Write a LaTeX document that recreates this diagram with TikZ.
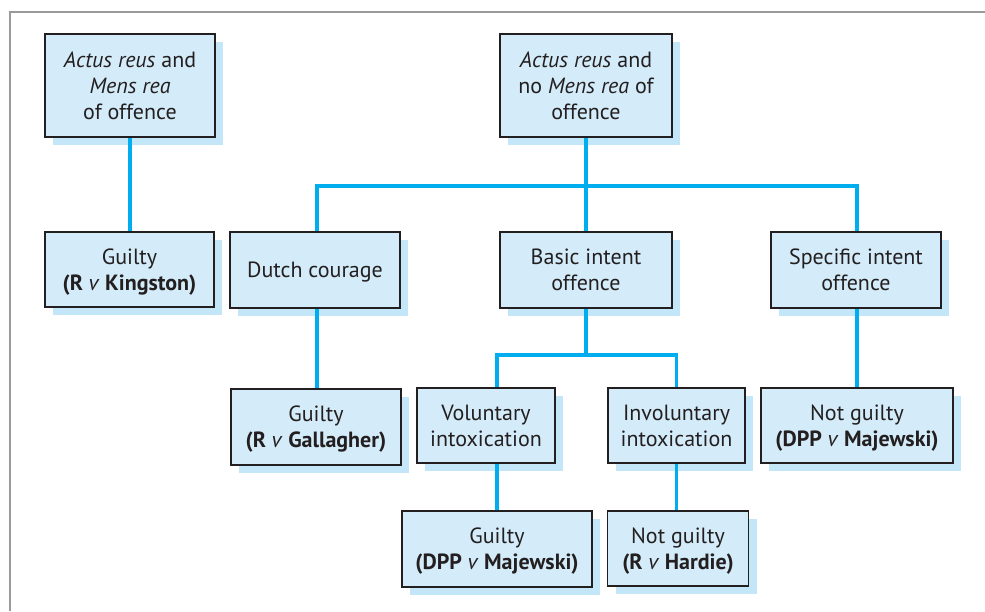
\documentclass[tikz,border=0pt]{standalone}
\usepackage{fontspec}
\setmainfont{PT Sans}
\newcommand\nodepthtext[1]{\raisebox{0pt}[\height][0pt]{#1}}
\pgfdeclarelayer{shadowlayer}
\pgfdeclarelayer{connlayer}
\pgfsetlayers{shadowlayer,connlayer,main}
\begin{document}
\begin{tikzpicture}[x=1pt,y=-1pt,
  boxstyle/.style={draw=boxline, line width=1.3pt, fill=boxfill, text=txt, align=center,
    font=\fontsize{22}{26}\selectfont, inner sep=0pt},
  conn/.style={draw=linecol, line width=3.2pt},
]
\definecolor{boxfill}{HTML}{D4ECF9}
\definecolor{shadowfill}{HTML}{C3E6F8}
\definecolor{boxline}{HTML}{231F20}
\definecolor{txt}{HTML}{231F20}
\definecolor{linecol}{HTML}{00AEEF}
\definecolor{framecol}{HTML}{999A9C}
\useasboundingbox (0,0) rectangle (985,611);
% frame
\draw[framecol, line width=2.6pt] (10,611) -- (10,12) -- (985,12);
% node geometry: name / center / width / height
\def\boxes{a1/130/85.5/170/103,a2/586/85.5/172/103,kg/129.5/269.5/169/75,dc/315/270/170/76,bi/586/270/172/76,si/856/270/170/76,ga/316/427/170/76,vi/486/425.5/138/75,ii/676.5/425.5/137/75,ng/857/425.5/192/75,gm/497/549/190/76,nh/678/548.5/141/75}
% shadows
\begin{pgfonlayer}{shadowlayer}
\foreach \n/\cx/\cy/\w/\h in \boxes {
  \fill[shadowfill] (\cx-\w/2+8,\cy-\h/2+8) rectangle (\cx+\w/2+8,\cy+\h/2+8);
}
\end{pgfonlayer}
% boxes
\node[boxstyle, minimum width=170pt, minimum height=103pt] (a1) at (130,85.5) {\itshape Actus reus\/ \upshape and\\ \itshape Mens rea\\ of offence};
\node[boxstyle, minimum width=172pt, minimum height=103pt] (a2) at (586,85.5) {\itshape Actus reus\/ \upshape and\\ no \itshape Mens rea\/ \upshape of\\ offence};
\node[boxstyle, minimum width=169pt, minimum height=75pt] (kg) at (129.5,269.5) {Guilty\\ \nodepthtext{\textbf{(R \textmd{\textit{v}} Kingston)}}};
\node[boxstyle, minimum width=170pt, minimum height=76pt] (dc) at (315,270) {\nodepthtext{Dutch courage}};
\node[boxstyle, minimum width=172pt, minimum height=76pt] (bi) at (586,270) {Basic intent\\ offence};
\node[boxstyle, minimum width=170pt, minimum height=76pt] (si) at (856,270) {Specific intent\\ offence};
\node[boxstyle, minimum width=170pt, minimum height=76pt] (ga) at (316,427) {Guilty\\ \nodepthtext{\textbf{(R \textmd{\textit{v}} Gallagher)}}};
\node[boxstyle, minimum width=138pt, minimum height=75pt] (vi) at (486,425.5) {Voluntary\\ intoxication};
\node[boxstyle, minimum width=137pt, minimum height=75pt] (ii) at (676.5,425.5) {Involuntary\\ intoxication};
\node[boxstyle, minimum width=192pt, minimum height=75pt] (ng) at (857,425.5) {Not guilty\\ \nodepthtext{\textbf{(DPP \textmd{\textit{v}} Majewski)}}};
\node[boxstyle, minimum width=190pt, minimum height=76pt] (gm) at (497,549) {Guilty\\ \nodepthtext{\textbf{(DPP \textmd{\textit{v}} Majewski)}}};
\node[boxstyle, minimum width=141pt, minimum height=75pt] (nh) at (678,548.5) {Not guilty\\ \nodepthtext{\textbf{(R \textmd{\textit{v}} Hardie)}}};
% connectors
\coordinate (j1) at (586,186);
\coordinate (j2) at (586,355);
\begin{pgfonlayer}{connlayer}
\draw[conn] (a1.south) -- (a1.south |- kg.north);
\draw[conn] (a2.south) -- (bi.north);
\draw[conn] ([xshift=2pt]dc.north) |- (j1) -| ([xshift=1pt]si.north);
\draw[conn] ([xshift=2pt]dc.south) -- ([xshift=2pt]dc.south |- ga.north);
\draw[conn] (bi.south) -- (j2);
\draw[conn] (gm.north |- vi.north) |- (j2) -| (ii.north);
\draw[conn] (gm.north |- vi.south) -- (gm.north);
\draw[conn] (ii.south) -- (ii.south |- nh.north);
\draw[conn] ([xshift=1pt]si.south) -- ([xshift=1pt]si.south |- ng.north);
\end{pgfonlayer}
\end{tikzpicture}
\end{document}
